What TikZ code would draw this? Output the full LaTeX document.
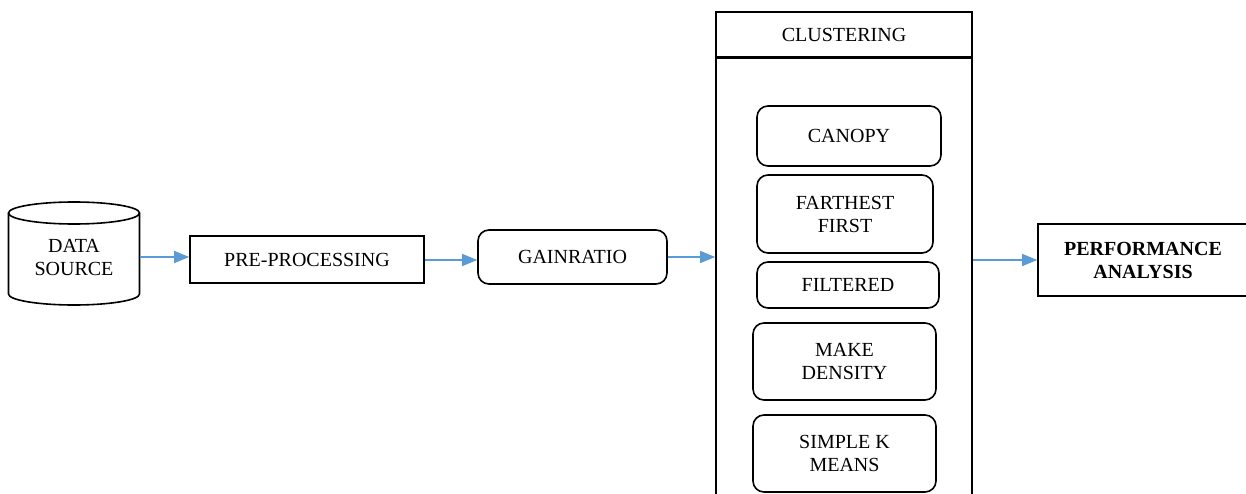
\documentclass[tikz,border=0pt]{standalone}
\usepackage{fontspec}
\setmainfont{Liberation Serif}
\usetikzlibrary{arrows.meta}
\definecolor{flowblue}{RGB}{91,155,213}

\begin{document}
\begin{tikzpicture}[x=1pt, y=-1pt]
  % Styles for the boxes and the blue flow arrows
  \tikzset{
    box/.style={draw, line width=1.6pt, align=center, inner sep=0pt, font=\fontsize{20}{23}\selectfont},
    rbox/.style={box, rounded corners=11pt},
    flow/.style={draw=flowblue, line width=1.3pt, -{Triangle[length=15pt, width=12pt]}}
  }

  % Page frame, the clustering column runs off the bottom
  \useasboundingbox (0,0) rectangle (1246,494);
  \clip (0,0) rectangle (1246,494);

  % Data source drum
  \node[align=center, inner sep=0pt, font=\fontsize{20}{23}\selectfont, minimum width=131, minimum height=90] (src) at (74,257) {DATA\\SOURCE};
  \draw[line width=1.6pt] (74,213) ellipse [x radius=65.5, y radius=11];
  \draw[line width=1.6pt] (8.5,213) -- (8.5,294) arc[start angle=180, end angle=0, x radius=65.5, y radius=11] -- (139.5,213);

  % Processing steps
  \node[box, minimum width=234, minimum height=47] (pre) at (307,259.5) {PRE-PROCESSING};
  \node[rbox, minimum width=189, minimum height=54] (gain) at (572.5,257) {GAINRATIO};

  % Clustering column
  \node[box, minimum width=256, minimum height=45] (clus) at (844,34.5) {CLUSTERING};
  \node[box, minimum width=256, minimum height=470, anchor=north] (clusbody) at (clus.south) {};

  % The five clustering methods
  \foreach \name/\pos/\w/\h/\txt in {
    canopy/{849,136}/184/60/{CANOPY},
    farthest/{845,214}/176/78/{FARTHEST\\FIRST},
    filtered/{848,285}/182/46/{FILTERED},
    density/{844.5,361.5}/183/77/{MAKE\\DENSITY},
    kmeans/{844.5,453.5}/183/77/{SIMPLE K\\MEANS}%
  } {
    \node[rbox, minimum width=\w, minimum height=\h] (\name) at (\pos) {\txt};
  }

  % Result
  \node[box, font=\bfseries\fontsize{20}{23}\selectfont, minimum width=210, minimum height=72] (perf) at (1143,260) {PERFORMANCE\\ANALYSIS};

  % Flow arrows
  \draw[flow] (src.east) -- (src.east -| pre.west);
  \draw[flow] ([yshift=-0.5pt]pre.east) -- ([yshift=-0.5pt]pre.east -| gain.west);
  \draw[flow] (gain.east) -- (gain.east -| clusbody.west);
  \draw[flow] (clusbody.east |- perf.west) -- (perf.west);
\end{tikzpicture}
\end{document}
